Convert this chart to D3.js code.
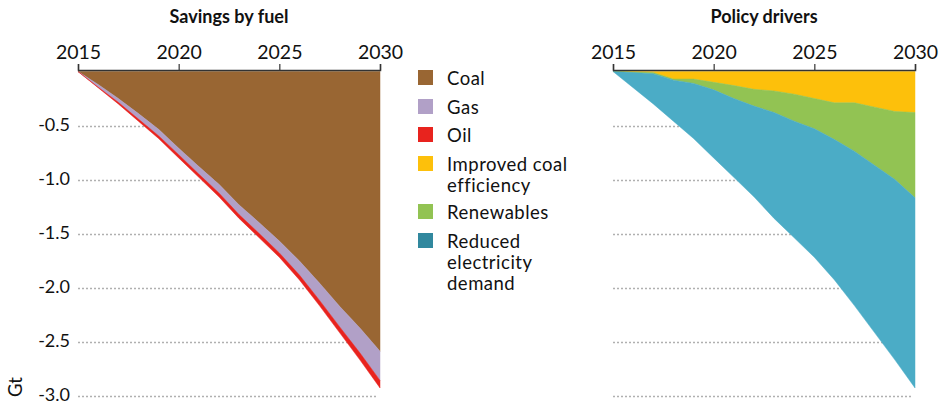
<!DOCTYPE html>
<html>
<head>
<meta charset="utf-8">
<script src="https://cdn.jsdelivr.net/npm/d3@7"></script>
<style>
  html, body { margin: 0; padding: 0; background: #fff; }
  svg { display: block; font-family: Lato, "Open Sans", sans-serif; }
</style>
</head>
<body>
<svg id="chart" width="939" height="404"></svg>
<script>
// Years on the horizontal axis
const years = [2015, 2016, 2017, 2018, 2019, 2020, 2021, 2022, 2023, 2024, 2025, 2026, 2027, 2028, 2029, 2030];
const yearTicks = [2015, 2020, 2025, 2030];
const gtTicks = [-0.5, -1.0, -1.5, -2.0, -2.5, -3.0];
const gtTickLabels = ["-0.5", "-1.0", "-1.5", "-2.0", "-2.5", "-3.0"];

// Savings by fuel (Gt, negative = reduction)
const coal = [0, -0.12, -0.25, -0.39, -0.535, -0.71, -0.88, -1.045, -1.235, -1.40, -1.57, -1.755, -1.96, -2.175, -2.375, -2.59];
const gas  = [0, -0.025, -0.035, -0.05, -0.06, -0.06, -0.07, -0.08, -0.09, -0.10, -0.11, -0.13, -0.16, -0.19, -0.23, -0.27];
const oil  = [0, -0.005, -0.015, -0.02, -0.025, -0.03, -0.03, -0.035, -0.035, -0.04, -0.04, -0.045, -0.05, -0.055, -0.065, -0.07];

// Policy drivers (Gt, negative = reduction)
const coalEfficiency = [0, -0.005, -0.01, -0.07, -0.07, -0.10, -0.13, -0.165, -0.18, -0.21, -0.25, -0.29, -0.29, -0.33, -0.37, -0.38];
const renewables     = [0, -0.005, -0.01, -0.01, -0.04, -0.07, -0.12, -0.155, -0.20, -0.25, -0.28, -0.34, -0.45, -0.54, -0.63, -0.79];
const electricity    = [0, -0.14, -0.28, -0.38, -0.51, -0.63, -0.73, -0.84, -0.98, -1.08, -1.19, -1.30, -1.43, -1.55, -1.67, -1.76];

const fuelSeries = [
  { key: "Coal", values: coal, color: "#996633", legend: "#996633", lines: ["Coal"] },
  { key: "Gas", values: gas, color: "#B1A0C7", legend: "#B1A0C7", lines: ["Gas"] },
  { key: "Oil", values: oil, color: "#E8231E", legend: "#E8231E", lines: ["Oil"] }
];
const policySeries = [
  { key: "Improved coal efficiency", values: coalEfficiency, color: "#FDC00B", legend: "#FDC00B", lines: ["Improved coal", "efficiency"] },
  { key: "Renewables", values: renewables, color: "#92C353", legend: "#92C353", lines: ["Renewables"] },
  { key: "Reduced electricity demand", values: electricity, color: "#4BACC6", legend: "#31889E", lines: ["Reduced", "electricity", "demand"] }
];

const svg = d3.select("#chart");
const y = d3.scaleLinear().domain([0, -3]).range([71.5, 395.5]);

function drawPanel(series, left, right, title, showYLabels) {
  const x = d3.scaleLinear().domain([2015, 2030]).range([left, right]);
  const g = svg.append("g");

  // dotted gridlines
  g.selectAll("line.grid").data(gtTicks).join("line")
    .attr("x1", left).attr("x2", right - 2)
    .attr("y1", d => Math.round(y(d)) + 0.5).attr("y2", d => Math.round(y(d)) + 0.5)
    .attr("stroke", "#b0b0b0").attr("stroke-width", 1.5)
    .attr("stroke-dasharray", "2,2");

  if (showYLabels) {
    g.selectAll("text.ylab").data(gtTicks).join("text")
      .attr("x", left - 8).attr("y", d => y(d))
      .attr("dy", "0.3em").attr("text-anchor", "end")
      .attr("font-size", 18).attr("fill", "#111")
      .text((d, i) => gtTickLabels[i]);
  }

  // stacked areas
  const table = years.map((yr, i) => {
    const row = { year: yr };
    series.forEach(s => { row[s.key] = s.values[i]; });
    return row;
  });
  const stack = d3.stack().keys(series.map(s => s.key)).offset(d3.stackOffsetDiverging);
  const layers = stack(table);
  const area = d3.area()
    .x(d => x(d.data.year))
    .y0(d => y(d[0]))
    .y1(d => y(d[1]));
  g.selectAll("path.layer").data(layers).join("path")
    .attr("d", area)
    .attr("fill", (d, i) => series[i].color)
    .attr("stroke", (d, i) => series[i].color)
    .attr("stroke-width", 0.5);

  // top axis
  const axis = d3.axisTop(x).tickValues(yearTicks).tickFormat(d3.format("d"))
    .tickSizeInner(6).tickSizeOuter(6).tickPadding(5);
  const ax = g.append("g").attr("transform", "translate(0,70)").call(axis);
  ax.select(".domain").attr("stroke", "#333").attr("stroke-width", 1.5);
  ax.selectAll(".tick line").attr("stroke", "#333").attr("stroke-width", 1.2);
  ax.selectAll(".tick text").attr("font-size", 19.5).attr("fill", "#111")
    .attr("font-family", "Lato, sans-serif");

  g.append("text")
    .attr("x", (left + right) / 2).attr("y", 23)
    .attr("text-anchor", "middle").attr("font-weight", "bold")
    .attr("font-size", 18).attr("fill", "#111")
    .text(title);
}

drawPanel(fuelSeries, 78, 380, "Savings by fuel", true);
drawPanel(policySeries, 613, 915, "Policy drivers", false);

// unit label
svg.append("text")
  .attr("transform", "translate(22,387) rotate(-90)")
  .attr("text-anchor", "middle").attr("font-size", 18.5).attr("fill", "#111")
  .text("Gt");

// legend
const legendTops = [70, 99, 127, 156, 204, 233];
const legendItems = fuelSeries.concat(policySeries);
const lg = svg.append("g");
legendItems.forEach((item, k) => {
  const top = legendTops[k];
  lg.append("rect").attr("x", 418).attr("y", top).attr("width", 15).attr("height", 15)
    .attr("fill", item.legend);
  item.lines.forEach((ln, i) => {
    lg.append("text").attr("x", 447).attr("y", top + 15 + i * 21)
      .attr("font-size", 18.5).attr("letter-spacing", 0.5).attr("fill", "#111")
      .text(ln);
  });
});
</script>
</body>
</html>
